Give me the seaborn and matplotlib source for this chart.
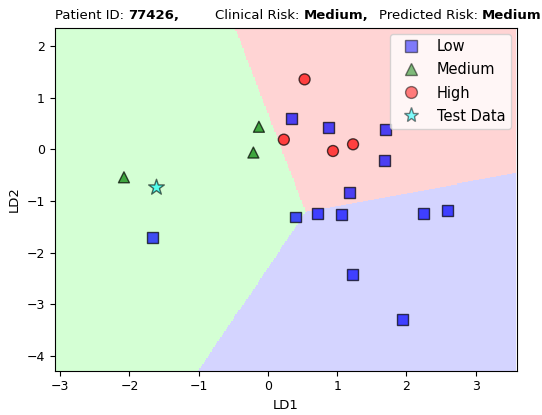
import numpy as np
import pandas as pd
import matplotlib
matplotlib.use("Agg")
import matplotlib.pyplot as plt
from matplotlib.colors import ListedColormap
from matplotlib.lines import Line2D
import seaborn as sns

# Risk classes in model order
classes = ["Low", "Medium", "High"]

# Training samples projected onto the two linear discriminants
low_ld1 = [0.34, 0.87, 1.70, 1.69, 1.18, 0.40, 0.71, 1.07, 2.25, 2.60, 1.22, 1.95, -1.67]
low_ld2 = [0.60, 0.43, 0.39, -0.21, -0.84, -1.31, -1.24, -1.27, -1.25, -1.18, -2.43, -3.29, -1.70]
medium_ld1 = [-0.13, -0.21, -2.08]
medium_ld2 = [0.44, -0.06, -0.54]
high_ld1 = [0.53, 0.23, 0.94, 1.23]
high_ld2 = [1.36, 0.19, -0.03, 0.10]

# Projected test patient
test_ld1 = [-1.62]
test_ld2 = [-0.72]

# Linear decision functions of the classifier (rows follow `classes`)
disc_coef = np.array([[0.0, 0.0], [-4.12, 2.08], [-0.76, 3.04]])
disc_intercept = np.array([0.0, 4.78, 4.11])

patient_id = "77426"
clinical_risk = "Medium"
predicted_risk = "Medium"

region_colors = ["#AAAAFF", "#AAFFAA", "#FFAAAA"]
point_colors = {"Low": "blue", "Medium": "green", "High": "red"}
point_markers = {"Low": "s", "Medium": "^", "High": "o"}

df = pd.concat([
    pd.DataFrame({"LD1": low_ld1, "LD2": low_ld2, "Risk": "Low"}),
    pd.DataFrame({"LD1": medium_ld1, "LD2": medium_ld2, "Risk": "Medium"}),
    pd.DataFrame({"LD1": high_ld1, "LD2": high_ld2, "Risk": "High"}),
], ignore_index=True)
test_df = pd.DataFrame({"LD1": test_ld1, "LD2": test_ld2})

plt.rcParams["font.family"] = ["DejaVu Sans"]

fig = plt.figure(figsize=(5.42, 4.15), dpi=100)
ax = fig.add_axes([0.101, 0.107, 0.853, 0.826])

# Decision regions on a grid spanning the data plus a margin of 1
all_x = np.concatenate([df["LD1"].values, test_df["LD1"].values])
all_y = np.concatenate([df["LD2"].values, test_df["LD2"].values])
x_min, x_max = all_x.min() - 1, all_x.max() + 1
y_min, y_max = all_y.min() - 1, all_y.max() + 1
xx, yy = np.meshgrid(np.arange(x_min, x_max, 0.02), np.arange(y_min, y_max, 0.02))
grid = np.c_[xx.ravel(), yy.ravel()]
scores = grid @ disc_coef.T + disc_intercept
zz = scores.argmax(axis=1).reshape(xx.shape)
ax.pcolormesh(xx, yy, zz, cmap=ListedColormap(region_colors), alpha=0.5,
              shading="auto", vmin=0, vmax=2, rasterized=True)

sns.scatterplot(data=df, x="LD1", y="LD2", hue="Risk", style="Risk",
                palette=point_colors, markers=point_markers, s=62, alpha=0.7,
                edgecolor="black", linewidth=1, legend=False, ax=ax)
sns.scatterplot(data=test_df, x="LD1", y="LD2", marker="*", s=140, color="cyan",
                alpha=0.6, edgecolor="black", linewidth=1, legend=False, ax=ax)

ax.set_xlim(x_min, x_max)
ax.set_ylim(y_min, y_max)
ax.set_xticks(np.arange(-3, 4))
ax.set_yticks(np.arange(-4, 3))
ax.tick_params(labelsize=9)
ax.set_xlabel("LD1", fontsize=9.5)
ax.set_ylabel("LD2", fontsize=9.5)

handles = [
    Line2D([], [], linestyle="None", marker=point_markers[c], markerfacecolor=point_colors[c],
           markeredgecolor="black", alpha=0.5, markersize=8.5, label=c)
    for c in classes
]
handles.append(Line2D([], [], linestyle="None", marker="*", markerfacecolor="cyan",
                      markeredgecolor="black", alpha=0.5, markersize=11, label="Test Data"))
ax.legend(handles=handles, loc="upper right", fontsize=10.5, labelspacing=0.55,
          borderaxespad=0.4)

# Title line built from plain and bold pieces, fitted between x = 55 and 541 px
renderer = fig.canvas.get_renderer()
title_y = 1 - 19 / 415
pieces = [
    ("Patient ID: ", "normal", 0), (f"{patient_id},", "bold", 36),
    ("Clinical Risk: ", "normal", 0), (f"{clinical_risk},", "bold", 10),
    ("Predicted Risk: ", "normal", 0), (predicted_risk, "bold", 0),
]
left_px, right_px = 55, 541
gaps = sum(p[2] for p in pieces)


def piece_widths(size):
    ws = []
    for txt, weight, _ in pieces:
        t = fig.text(0, 0, txt, fontsize=size, fontweight=weight)
        ws.append(t.get_window_extent(renderer).width)
        t.remove()
    return ws


size = 10.0
size *= (right_px - left_px - gaps) / sum(piece_widths(size))
widths = piece_widths(size)
x = left_px
for (txt, weight, gap), w in zip(pieces, widths):
    fig.text(x / fig.bbox.width, title_y, txt, fontsize=size, fontweight=weight,
             va="baseline", ha="left")
    x += w + gap

fig.savefig("out.png", dpi=100)
